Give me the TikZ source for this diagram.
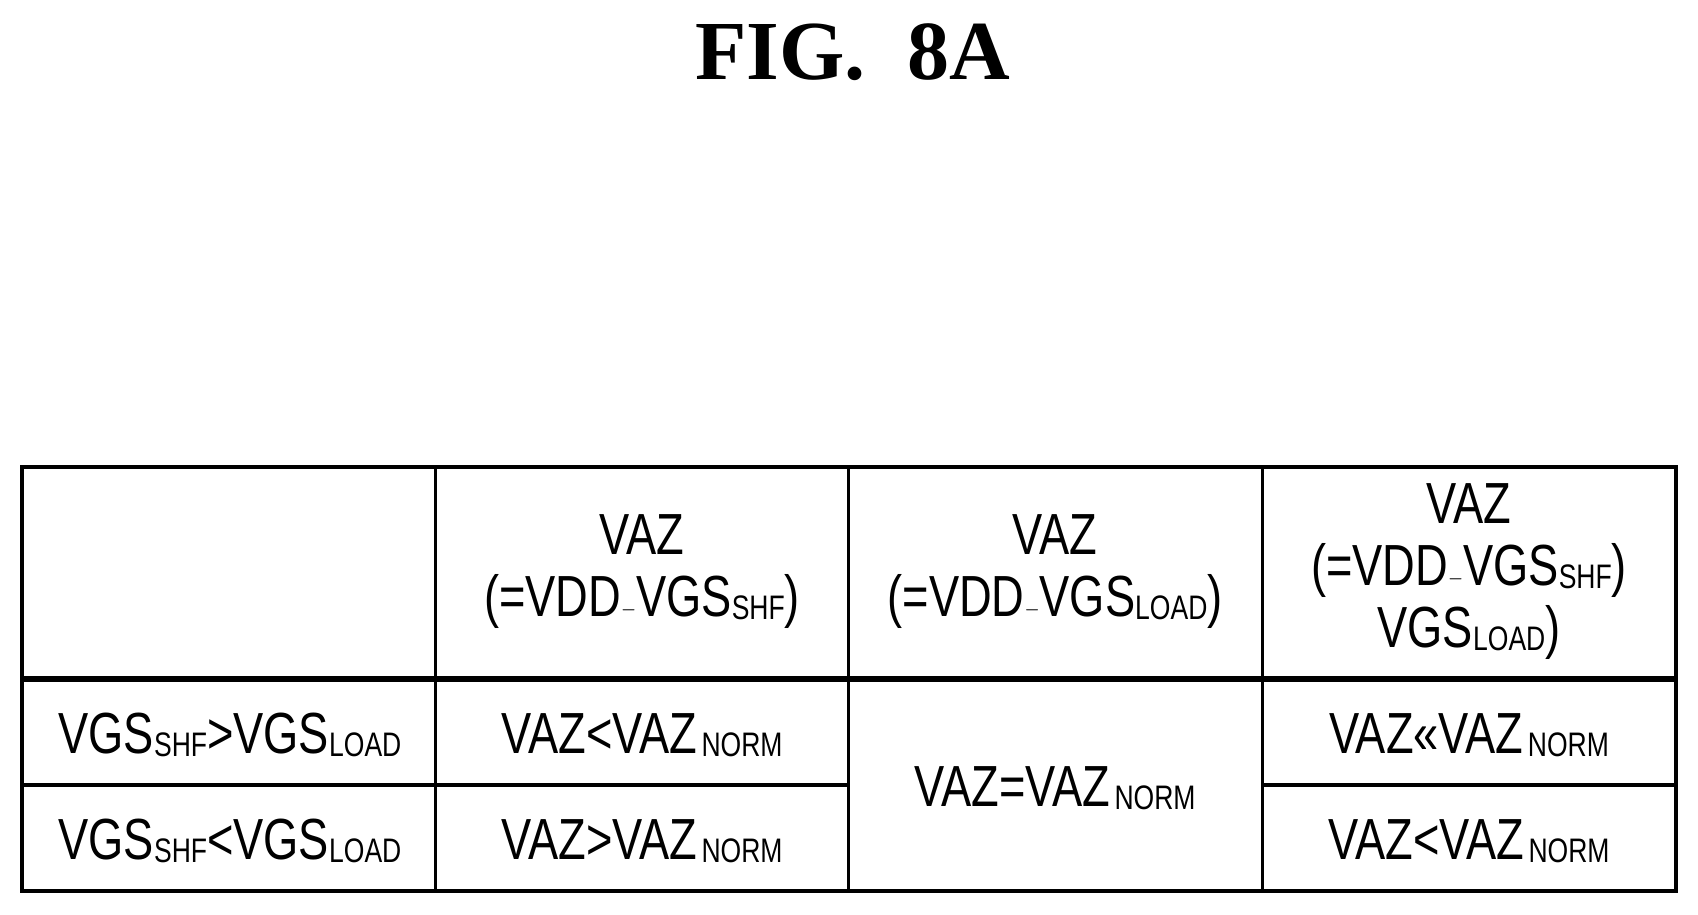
\documentclass[tikz,border=0pt]{standalone}
\usepackage{fontspec}
\setmainfont{Liberation Sans}
\newfontfamily\titlefont{Liberation Serif}
\newcommand{\sbs}[1]{\raisebox{-3pt}{\fontsize{34}{34}\selectfont #1}}
\newcommand{\cx}[1]{\scalebox{0.78}[1]{#1}}
\begin{document}
\begin{tikzpicture}[x=1pt,y=-1pt,
  cell/.style={font=\fontsize{58}{62}\selectfont, align=center, inner sep=0pt}]
\useasboundingbox (0,0) rectangle (1698,914);
\node[inner sep=0pt, font=\titlefont\bfseries\fontsize{84}{84}\selectfont] (title) at (853,52) {FIG.\ \ 8A};
% grid
\draw[line width=4pt] (22,467) rectangle (1676,891);
\draw[line width=5.5pt] (22,679) -- (1676,679);
\draw[line width=3.5pt] (22,785) -- (848,785);
\draw[line width=3.5pt] (1262,785) -- (1676,785);
\draw[line width=3pt] (435,467) -- (435,891);
\draw[line width=3pt] (848,467) -- (848,891);
\draw[line width=3pt] (1262,467) -- (1676,467) (1262,467) -- (1262,891);
% headers
\node[cell] (h1) at (642,572) {\cx{VAZ}\\\cx{(=VDD$-$VGS\sbs{SHF})}};
\node[cell] (h2) at (1055,572) {\cx{VAZ}\\\cx{(=VDD$-$VGS\sbs{LOAD})}};
\node[cell] (h3) at (1469,572) {\cx{VAZ}\\\cx{(=VDD$-$VGS\sbs{SHF})}\\\cx{VGS\sbs{LOAD})}};
% rows
\node[cell] (r1) at (230,735) {\cx{VGS\sbs{SHF}>VGS\sbs{LOAD}}};
\node[cell] (r2) at (230,841) {\cx{VGS\sbs{SHF}<VGS\sbs{LOAD}}};
\node[cell] (a1) at (642,735) {\cx{VAZ<VAZ\sbs{\,NORM}}};
\node[cell] (a2) at (642,841) {\cx{VAZ>VAZ\sbs{\,NORM}}};
\node[cell] (b) at (1055,788) {\cx{VAZ=VAZ\sbs{\,NORM}}};
\node[cell] (c1) at (1469,735) {\cx{VAZ<<VAZ\sbs{\,NORM}}};
\node[cell] (c2) at (1469,841) {\cx{VAZ<VAZ\sbs{\,NORM}}};
\end{tikzpicture}
\end{document}
